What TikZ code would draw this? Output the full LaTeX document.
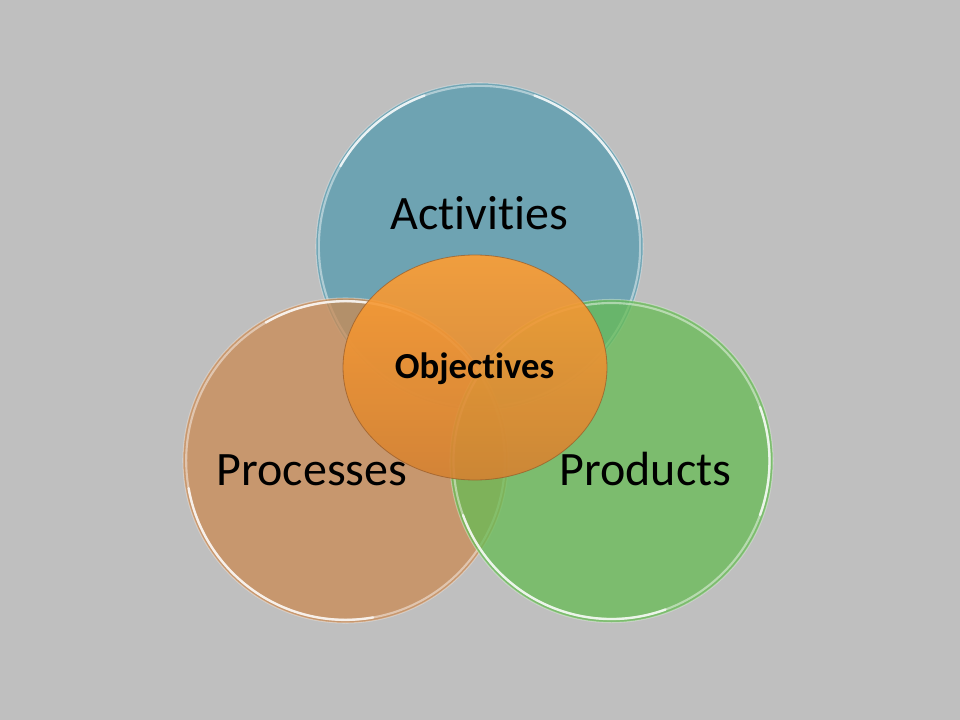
\documentclass[tikz,border=0pt]{standalone}
\usepackage{fontspec}
\newfontfamily\calfont[Ligatures=NoCommon]{Carlito}
\usetikzlibrary{shapes.geometric}
\definecolor{bgray}{RGB}{191,191,191}
\definecolor{actfill}{RGB}{84,154,174}
\definecolor{procfill}{RGB}{203,138,83}
\definecolor{prodfill}{RGB}{102,188,84}
\definecolor{objtop}{RGB}{255,158,50}
\definecolor{objbot}{RGB}{212,130,50}
\definecolor{objline}{RGB}{150,90,40}
\tikzset{
  venn/.style={circle, inner sep=0pt, outer sep=0pt, fill opacity=0.75, draw=white, draw opacity=0.35, line width=0.8pt},
  rim/.style={draw=white, line width=1.6pt, opacity=0.45},
  rimhi/.style={draw=white, line width=1.8pt, opacity=0.75, line cap=round},
  lbl/.style={font=\calfont\fontsize{36}{40}\selectfont, text=black, inner sep=0pt},
}
\begin{document}
\begin{tikzpicture}[x=0.75pt,y=-0.75pt]
\fill[bgray] (0,0) rectangle (960,720);
\useasboundingbox (0,0) rectangle (960,720);
% circles
\node[venn, fill=actfill, minimum size=245.25pt] (act) at (479.5,246.5) {};
\draw[rim] (act.center) circle (120.5pt);
\draw[rimhi] (act.center) ++(10:120.5pt) arc (10:70:120.5pt);
\draw[rimhi] (act.center) ++(110:120.5pt) arc (110:150:120.5pt);
\node[venn, fill=procfill, minimum size=243.75pt] (proc) at (345.5,460.5) {};
\draw[rim] (proc.center) circle (119.5pt);
\draw[rimhi] (proc.center) ++(190:119.5pt) arc (190:280:119.5pt);
\draw[rimhi] (proc.center) ++(70:119.5pt) arc (70:120:119.5pt);
\node[venn, fill=prodfill, minimum size=242.25pt] (prod) at (611.5,461) {};
\draw[rim] (prod.center) circle (118.5pt);
\draw[rimhi] (prod.center) ++(200:118.5pt) arc (200:290:118.5pt);
\draw[rimhi] (prod.center) ++(-20:118.5pt) arc (-20:20:118.5pt);
% labels
\node[lbl, anchor=base] (tact) at (479.5,230) {Activities};
\node[lbl, anchor=base] (tproc) at (312,485) {Processes};
\node[lbl, anchor=base] (tprod) at (645.5,485) {Products};
% central ellipse
\shade[top color=objtop, bottom color=objbot, fill opacity=0.9]
  (475,367.5) ellipse (99pt and 84.4pt);
\node[ellipse, minimum width=198pt, minimum height=168.75pt, inner sep=0pt,
  draw=objline, draw opacity=0.7, line width=0.6pt] (obj) at (475,367.5) {};
\node[font=\calfont\bfseries\fontsize{27.5}{30}\selectfont, text=black, inner sep=0pt, anchor=base] (tobj) at (474.5,378) {Objectives};
\end{tikzpicture}
\end{document}
